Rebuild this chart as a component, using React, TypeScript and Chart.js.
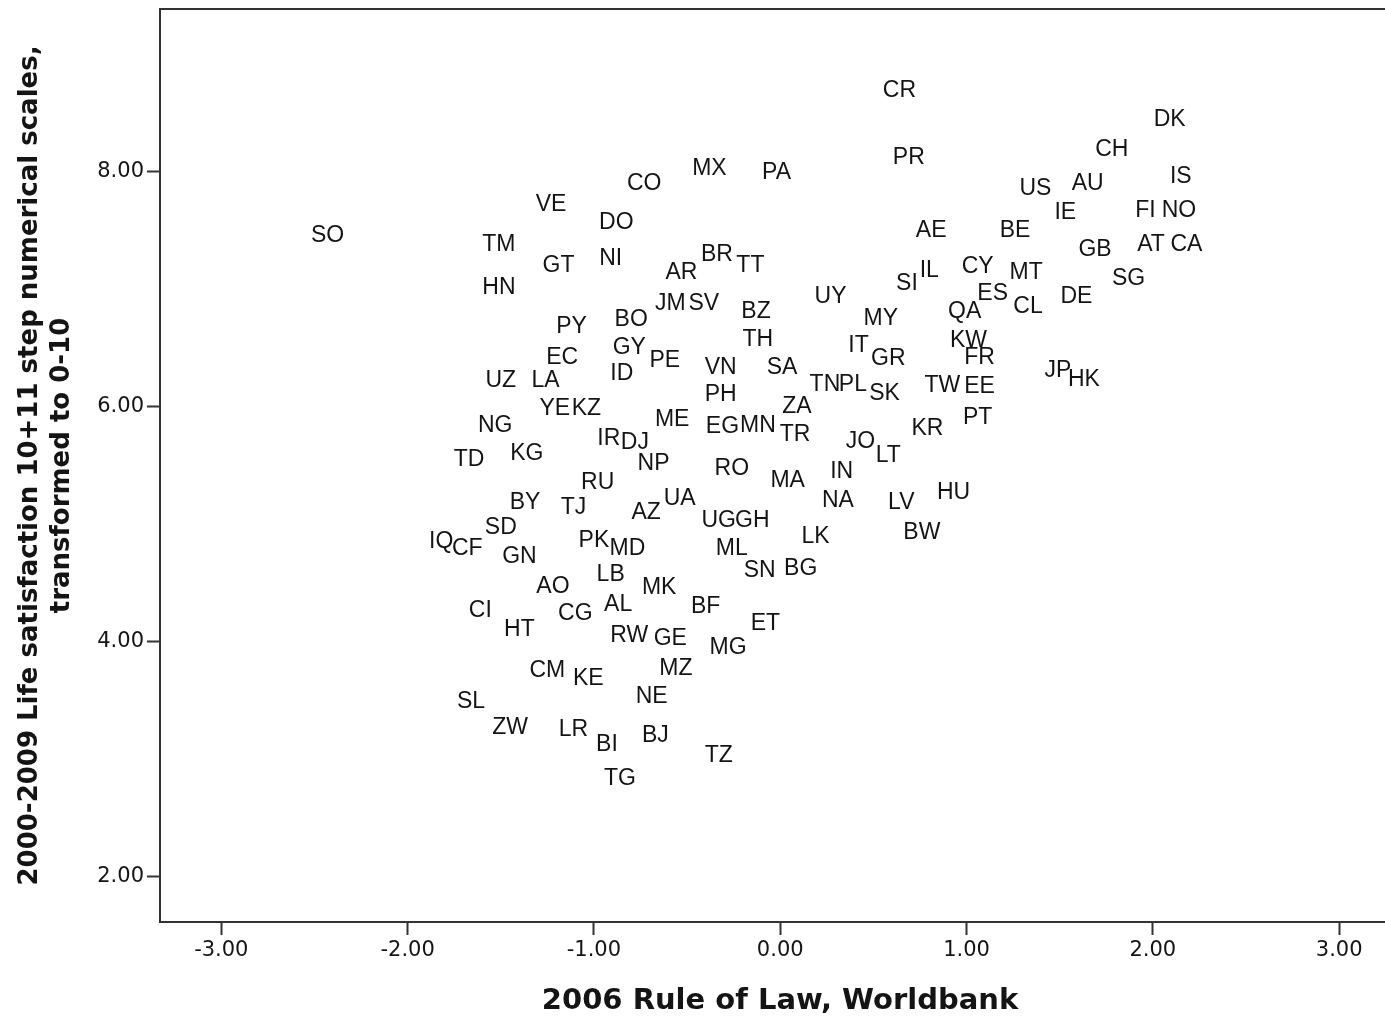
import { useEffect, useRef } from 'react';
import { Chart, registerables } from 'chart.js';

Chart.register(...registerables);

// Country codes (labels drawn in place of markers)
const codes = [
  'SO', 'CR', 'PR', 'MX', 'PA', 'CO', 'VE', 'DO', 'TM', 'GT',
  'NI', 'HN', 'AR', 'BR', 'TT', 'UY', 'AE', 'BE', 'US', 'AU',
  'CH', 'DK', 'IS', 'IE', 'FI', 'NO', 'GB', 'AT', 'CA', 'SG',
  'DE', 'MT', 'CY', 'IL', 'SI', 'ES', 'CL', 'QA', 'MY', 'BZ',
  'JM', 'SV', 'PY', 'BO', 'TH', 'EC', 'GY', 'PE', 'VN', 'SA',
  'IT', 'GR', 'KW', 'FR', 'JP', 'HK', 'UZ', 'LA', 'ID', 'PH',
  'TN', 'PL', 'SK', 'TW', 'EE', 'YE', 'KZ', 'ME', 'EG', 'MN',
  'ZA', 'TR', 'KR', 'PT', 'NG', 'IR', 'DJ', 'JO', 'LT', 'TD',
  'KG', 'NP', 'RO', 'MA', 'IN', 'RU', 'BY', 'TJ', 'AZ', 'UA',
  'UG', 'GH', 'NA', 'LV', 'HU', 'SD', 'IQ', 'CF', 'GN', 'PK',
  'MD', 'ML', 'LK', 'BW', 'SN', 'BG', 'LB', 'AO', 'MK', 'AL',
  'BF', 'CI', 'CG', 'HT', 'ET', 'RW', 'GE', 'MG', 'CM', 'KE',
  'MZ', 'NE', 'SL', 'ZW', 'LR', 'BI', 'BJ', 'TZ', 'TG',
];

// 2006 Rule of Law, Worldbank
const ruleOfLaw = [
  -2.43, 0.64, 0.69, -0.38, -0.02, -0.73, -1.23, -0.88, -1.51, -1.19,
  -0.91, -1.51, -0.53, -0.34, -0.16, 0.27, 0.81, 1.26, 1.37, 1.65,
  1.78, 2.09, 2.15, 1.53, 1.96, 2.14, 1.69, 1.99, 2.18, 1.87,
  1.59, 1.32, 1.06, 0.80, 0.68, 1.14, 1.33, 0.99, 0.54, -0.13,
  -0.59, -0.41, -1.12, -0.80, -0.12, -1.17, -0.81, -0.62, -0.32, 0.01,
  0.42, 0.58, 1.01, 1.07, 1.49, 1.63, -1.50, -1.26, -0.85, -0.32,
  0.24, 0.39, 0.56, 0.87, 1.07, -1.21, -1.04, -0.58, -0.31, -0.12,
  0.09, 0.08, 0.79, 1.06, -1.53, -0.92, -0.78, 0.43, 0.58, -1.67,
  -1.36, -0.68, -0.26, 0.04, 0.33, -0.98, -1.37, -1.11, -0.72, -0.54,
  -0.33, -0.15, 0.31, 0.65, 0.93, -1.50, -1.82, -1.68, -1.40, -1.00,
  -0.82, -0.26, 0.19, 0.76, -0.11, 0.11, -0.91, -1.22, -0.65, -0.87,
  -0.40, -1.61, -1.10, -1.40, -0.08, -0.81, -0.59, -0.28, -1.25, -1.03,
  -0.56, -0.69, -1.66, -1.45, -1.11, -0.93, -0.67, -0.33, -0.86,
];

// 2000-2009 Life satisfaction (0-10)
const lifeSatisfaction = [
  7.46, 8.69, 8.12, 8.03, 7.99, 7.90, 7.72, 7.57, 7.38, 7.20,
  7.26, 7.01, 7.14, 7.29, 7.20, 6.94, 7.50, 7.50, 7.86, 7.90,
  8.19, 8.44, 7.96, 7.65, 7.67, 7.67, 7.34, 7.38, 7.38, 7.09,
  6.94, 7.14, 7.19, 7.16, 7.05, 6.96, 6.85, 6.81, 6.75, 6.81,
  6.88, 6.88, 6.68, 6.74, 6.57, 6.42, 6.50, 6.39, 6.33, 6.33,
  6.52, 6.41, 6.56, 6.42, 6.31, 6.23, 6.22, 6.22, 6.28, 6.10,
  6.19, 6.19, 6.11, 6.18, 6.17, 5.98, 5.98, 5.89, 5.83, 5.84,
  6.00, 5.76, 5.81, 5.91, 5.84, 5.73, 5.69, 5.70, 5.58, 5.55,
  5.60, 5.51, 5.47, 5.37, 5.45, 5.35, 5.18, 5.14, 5.10, 5.22,
  5.03, 5.03, 5.20, 5.18, 5.27, 4.97, 4.85, 4.79, 4.72, 4.86,
  4.79, 4.79, 4.89, 4.93, 4.60, 4.62, 4.57, 4.47, 4.46, 4.31,
  4.30, 4.26, 4.24, 4.10, 4.15, 4.05, 4.02, 3.95, 3.75, 3.68,
  3.77, 3.53, 3.49, 3.27, 3.25, 3.12, 3.20, 3.03, 2.83,
];

const xTicks = [-3, -2, -1, 0, 1, 2, 3];
const yTicks = [2, 4, 6, 8];
const xTitle = '2006 Rule of Law, Worldbank';
const yTitleLines = [
  '2000-2009 Life satisfaction 10+11 step numerical scales,',
  'transformed to 0-10',
];

const AXIS_COLOR = '#333333';
const TEXT_COLOR = '#141414';

export default function App() {
  const ref = useRef<HTMLCanvasElement>(null);

  useEffect(() => {
    document.body.style.margin = '0';
    const canvas = ref.current;
    if (!canvas) return;

    const labelPlugin = {
      id: 'codeLabels',
      afterDatasetsDraw(chart: any) {
        const ctx = chart.ctx;
        const meta = chart.getDatasetMeta(0);
        ctx.save();
        ctx.font = '23px "Liberation Sans", Arial, sans-serif';
        ctx.fillStyle = TEXT_COLOR;
        ctx.textAlign = 'center';
        ctx.textBaseline = 'middle';
        meta.data.forEach((el: any, i: number) => {
          ctx.fillText(codes[i], el.x, el.y);
        });
        ctx.restore();
      },
      afterDraw(chart: any) {
        const ctx = chart.ctx;
        const a = chart.chartArea;
        ctx.save();
        // top frame line
        ctx.strokeStyle = AXIS_COLOR;
        ctx.lineWidth = 2;
        ctx.beginPath();
        ctx.moveTo(a.left - 1, a.top);
        ctx.lineTo(a.right, a.top);
        ctx.stroke();
        // x title
        ctx.fillStyle = TEXT_COLOR;
        ctx.font = 'bold 29px "DejaVu Sans", sans-serif';
        ctx.textAlign = 'center';
        ctx.textBaseline = 'middle';
        ctx.fillText(xTitle, 780, 1001);
        // y title
        ctx.font = 'bold 26px "DejaVu Sans", sans-serif';
        ctx.translate(30, (a.top + a.bottom) / 2);
        ctx.rotate(-Math.PI / 2);
        yTitleLines.forEach((line, i) => {
          ctx.fillText(line, 0, i * 32);
        });
        ctx.restore();
      },
    };

    const chart = new Chart(canvas, {
      type: 'scatter',
      data: {
        datasets: [
          {
            data: ruleOfLaw.map((x, i) => ({ x, y: lifeSatisfaction[i] })),
            pointRadius: 0,
            pointHoverRadius: 0,
            showLine: false,
          },
        ],
      },
      options: {
        responsive: false,
        animation: false,
        devicePixelRatio: 1,
        layout: { padding: { top: 9, right: 0, left: 0, bottom: 0 } },
        plugins: {
          legend: { display: false },
          tooltip: { enabled: false },
        },
        scales: {
          x: {
            type: 'linear',
            min: -3.329,
            max: 3.246,
            afterFit(scale: any) {
              scale.height = 97;
            },
            afterBuildTicks(scale: any) {
              scale.ticks = xTicks.map((v) => ({ value: v }));
            },
            border: { display: true, color: AXIS_COLOR, width: 2 },
            grid: {
              drawOnChartArea: false,
              drawTicks: true,
              tickLength: 13,
              tickColor: AXIS_COLOR,
              tickWidth: 2,
            },
            ticks: {
              color: TEXT_COLOR,
              font: { family: '"DejaVu Sans", sans-serif', size: 21 },
              padding: 3,
              maxRotation: 0,
              autoSkip: false,
              callback: (v: any) => Number(v).toFixed(2),
            },
          },
          y: {
            type: 'linear',
            min: 1.611,
            max: 9.386,
            afterFit(scale: any) {
              scale.width = 160;
              scale.paddingTop = 0;
              scale.paddingBottom = 0;
            },
            afterBuildTicks(scale: any) {
              scale.ticks = yTicks.map((v) => ({ value: v }));
            },
            border: { display: true, color: AXIS_COLOR, width: 2 },
            grid: {
              drawOnChartArea: false,
              drawTicks: true,
              tickLength: 13,
              tickColor: AXIS_COLOR,
              tickWidth: 2,
            },
            ticks: {
              color: TEXT_COLOR,
              font: { family: '"DejaVu Sans", sans-serif', size: 21 },
              padding: 3,
              autoSkip: false,
              callback: (v: any) => Number(v).toFixed(2),
            },
          },
        },
      },
      plugins: [labelPlugin],
    });

    return () => chart.destroy();
  }, []);

  return (
    <canvas
      ref={ref}
      width={1385}
      height={1019}
      style={{ display: 'block', width: 1385, height: 1019 }}
    />
  );
}
